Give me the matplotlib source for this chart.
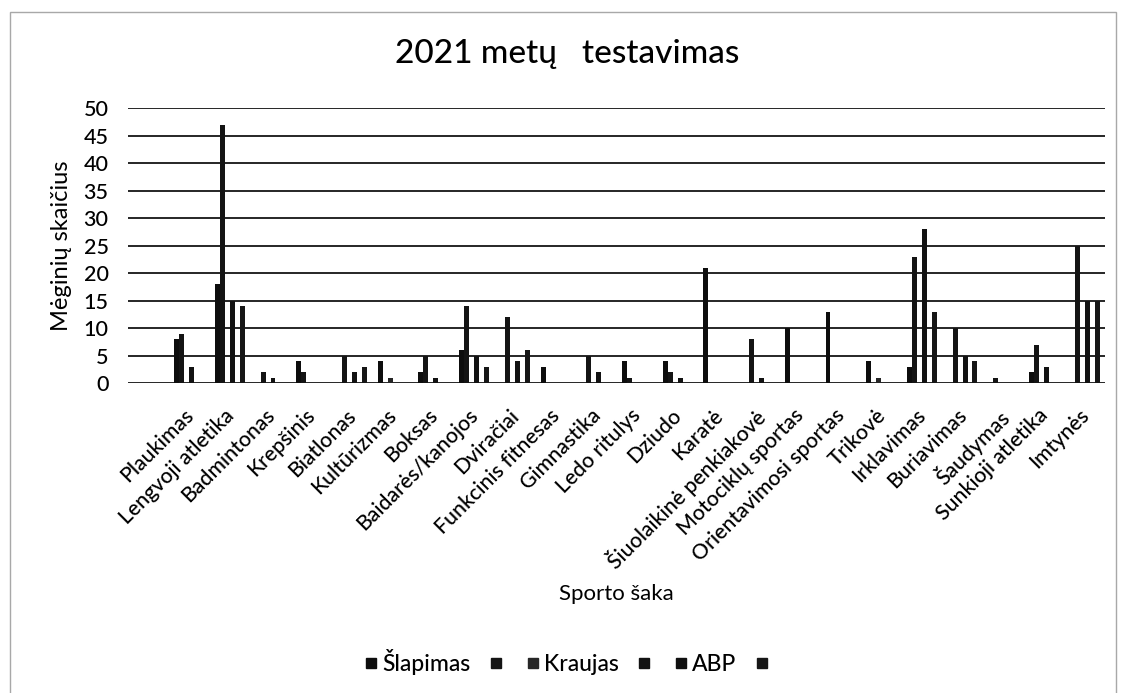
import numpy as np
import matplotlib.pyplot as plt
from matplotlib.patches import Rectangle
from matplotlib.lines import Line2D
from matplotlib.transforms import ScaledTranslation

plt.rcParams['font.family'] = ['Lato', 'DejaVu Sans']
plt.rcParams['font.weight'] = 500

sports = ['Plaukimas', 'Lengvoji atletika', 'Badmintonas', 'Krepšinis', 'Biatlonas',
          'Kultūrizmas', 'Boksas', 'Baidarės/kanojos', 'Dviračiai', 'Funkcinis fitnesas',
          'Gimnastika', 'Ledo ritulys', 'Dziudo', 'Karatė', 'Šiuolaikinė penkiakovė',
          'Motociklų sportas', 'Orientavimosi sportas', 'Trikovė', 'Irklavimas',
          'Buriavimas', 'Šaudymas', 'Sunkioji atletika', 'Imtynės']

series_names = ['Šlapimas', '', 'Kraujas', '', 'ABP', '']

s1 = [8, 18, 0, 4, 0, 4, 2, 6, 0, 3, 0, 4, 4, 21, 0, 10, 13, 4, 3, 0, 0, 2, 0]
s2 = [9, 47, 2, 2, 5, 0, 5, 14, 12, 0, 5, 1, 2, 0, 8, 0, 0, 0, 23, 10, 1, 7, 25]
s3 = [0, 0, 0, 0, 0, 1, 0, 0, 0, 0, 0, 0, 0, 0, 0, 0, 0, 1, 0, 0, 0, 0, 0]
s4 = [3, 15, 1, 0, 2, 0, 1, 5, 4, 0, 2, 0, 1, 0, 1, 0, 0, 0, 28, 5, 0, 3, 15]
s5 = [0, 0, 0, 0, 0, 0, 0, 0, 0, 0, 0, 0, 0, 0, 0, 0, 0, 0, 0, 0, 0, 0, 0]
s6 = [0, 14, 0, 0, 3, 0, 0, 3, 6, 0, 0, 0, 0, 0, 0, 0, 0, 0, 13, 4, 0, 0, 15]

series = [s1, s2, s3, s4, s5, s6]
colors = ['#0d0d0d', '#141414', '#262626', '#121212', '#0f0f0f', '#161616']

fig = plt.figure(figsize=(11.23, 6.93), dpi=100)
ax = fig.add_axes([0.114, 0.447, 0.870, 0.397])

x = np.arange(len(sports))
w = 1 / 8.19
for j, vals in enumerate(series):
    ax.bar(x + (j - 2.5) * w, vals, width=w, color=colors[j], zorder=3)

ax.set_xlim(-1.5, len(sports) - 0.5)
ax.set_ylim(0, 50)
ax.set_yticks(np.arange(0, 51, 5))
ax.yaxis.grid(True, color='#262626', linewidth=1.4, zorder=0)
for sp in ax.spines.values():
    sp.set_visible(False)
ax.tick_params(axis='y', length=0, pad=14, labelsize=15.5)
ax.tick_params(axis='x', length=0, pad=13)
ax.set_xticks(x)
ax.set_xticklabels(sports, rotation=45, ha='right', va='top',
                   rotation_mode='anchor', fontsize=15.3)
shift = ScaledTranslation(-0.06, -0.04, fig.dpi_scale_trans)
for lab in ax.get_xticklabels():
    lab.set_transform(lab.get_transform() + shift)

ax.set_ylabel('Mėginių skaičius', fontsize=17, labelpad=8)
ax.set_xlabel('Sporto šaka', fontsize=16)
ax.xaxis.set_label_coords(0.5, -0.73)

fig.text(0.505, 0.922, '2021 metų   testavimas', ha='center', va='center', fontsize=24)

# square legend keys like Excel
keys = [Line2D([], [], linestyle='none', marker='s', markersize=6.5,
               markerfacecolor=c, markeredgecolor=c) for c in colors]
fig.legend(keys, series_names, loc='center', bbox_to_anchor=(0.507, 0.045), ncol=6,
           frameon=False, fontsize=16.5, handlelength=0.45,
           handletextpad=0.25, columnspacing=0.9)

fig.patches.append(Rectangle((10 / 1123, -0.01), 1106 / 1123, 1 - 12 / 693 + 0.01,
                             transform=fig.transFigure, fill=False,
                             edgecolor='#a8a8a8', linewidth=1))

fig.savefig('out.png', dpi=100)
